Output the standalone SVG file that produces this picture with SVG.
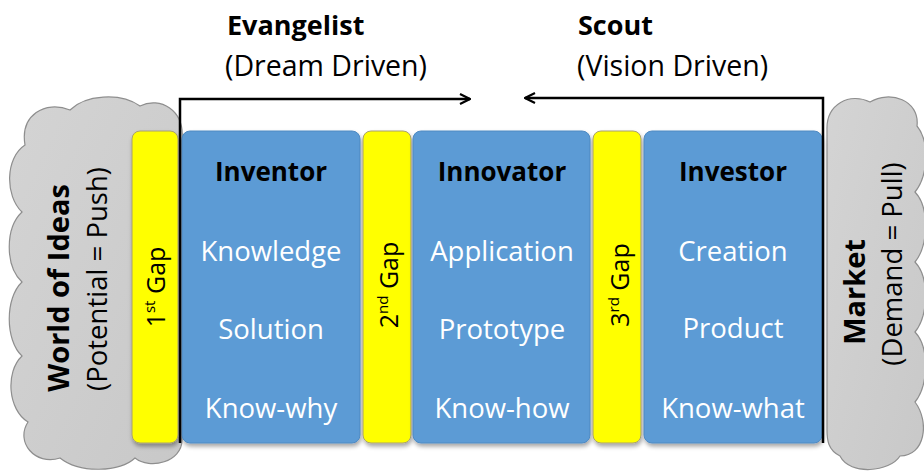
<svg xmlns="http://www.w3.org/2000/svg" width="924" height="473" viewBox="0 0 924 473">
<defs>
<linearGradient id="cloudGrad" x1="0" y1="0" x2="1" y2="1">
<stop offset="0" stop-color="#d4d4d4"/>
<stop offset="1" stop-color="#c8c8c8"/>
</linearGradient>
<filter id="shadow" x="-10%" y="-10%" width="130%" height="130%">
<feDropShadow dx="1" dy="3" stdDeviation="2" flood-color="#000" flood-opacity="0.35"/>
</filter>
<marker id="arrow" viewBox="0 0 12 12" refX="11" refY="6" markerWidth="12" markerHeight="12" markerUnits="userSpaceOnUse" orient="auto">
<path d="M1,1 L11,6 L1,11" fill="none" stroke="#000" stroke-width="2.2"/>
</marker>
<style>
.cloud{fill:url(#cloudGrad);stroke:#8e8e8e;stroke-width:1.2}
.gap{fill:#ffff00;stroke:#a8a070;stroke-width:1;filter:url(#shadow)}
.box{fill:#5b9bd5;stroke:#4f8ac2;stroke-width:1;filter:url(#shadow)}
.t{font-family:"Open Sans","Liberation Sans",sans-serif}
.head{font-weight:bold;font-size:26px;fill:#000;text-anchor:middle}
.item{font-size:27.5px;fill:#fff;text-anchor:middle}
.gapt{font-size:25px;fill:#000;text-anchor:middle}
.topb{font-size:27px;font-weight:bold;fill:#000}
.topr{font-size:28.5px;fill:#000}
.cb{font-weight:bold;font-size:29px;fill:#000;text-anchor:middle}
.cr{font-size:27.5px;fill:#000;text-anchor:middle}
.conn{fill:none;stroke:#000;stroke-width:2.5}
</style>
</defs>
<rect width="924" height="473" fill="#fff"/>

<g id="world-of-ideas">
<path class="cloud" d="M182,140 C185,110 160,96 140,106 C120,92 85,95 70,110 C45,100 20,115 25,145 C5,158 5,196 22,212 C5,228 5,266 22,282 C5,298 5,340 22,356 C5,372 8,410 28,422 C15,442 35,466 60,458 C80,474 120,472 135,458 C150,470 182,462 182,440 Z"/>
<text class="t cb" transform="translate(69,288) rotate(-90)">World of Ideas</text>
<text class="t cr" transform="translate(107,279) rotate(-90)">(Potential = Push)</text>
</g>

<g id="market">
<path class="cloud" d="M827,130 C826,104 850,92 870,102 C890,90 920,100 917,126 C930,142 928,176 915,192 C930,208 928,246 915,262 C930,278 928,316 915,332 C930,348 928,386 915,402 C930,422 925,456 900,456 C890,472 850,476 840,456 C828,450 827,440 827,430 Z"/>
<text class="t cb" transform="translate(865,292) rotate(-90)">Market</text>
<text class="t cr" transform="translate(902,264) rotate(-90)">(Demand = Pull)</text>
</g>

<g id="gap1">
<rect class="gap" x="132" y="131" width="46" height="312" rx="8"/>
<text class="t gapt" transform="translate(165,287) rotate(-90)">1<tspan font-size="15" dy="-10">st</tspan><tspan dy="10"> Gap</tspan></text>
</g>

<g id="inventor">
<rect class="box" x="182" y="131" width="178" height="312" rx="8"/>
<text class="t head" x="271" y="181">Inventor</text>
<text class="t item" x="271" y="261">Knowledge</text>
<text class="t item" x="271" y="339">Solution</text>
<text class="t item" x="271" y="418">Know-why</text>
</g>

<g id="gap2">
<rect class="gap" x="363" y="131" width="48" height="312" rx="8"/>
<text class="t gapt" transform="translate(398,285) rotate(-90)">2<tspan font-size="15" dy="-10">nd</tspan><tspan dy="10"> Gap</tspan></text>
</g>

<g id="innovator">
<rect class="box" x="413" y="131" width="177" height="312" rx="8"/>
<text class="t head" x="502" y="181">Innovator</text>
<text class="t item" x="502" y="261">Application</text>
<text class="t item" x="502" y="339">Prototype</text>
<text class="t item" x="502" y="418">Know-how</text>
</g>

<g id="gap3">
<rect class="gap" x="593" y="131" width="48" height="312" rx="8"/>
<text class="t gapt" transform="translate(629,285) rotate(-90)">3<tspan font-size="15" dy="-10">rd</tspan><tspan dy="10"> Gap</tspan></text>
</g>

<g id="investor">
<rect class="box" x="644" y="131" width="178" height="312" rx="8"/>
<text class="t head" x="733" y="181">Investor</text>
<text class="t item" x="733" y="261">Creation</text>
<text class="t item" x="733" y="338">Product</text>
<text class="t item" x="733" y="418">Know-what</text>
</g>

<g id="evangelist">
<text class="t topb" x="227" y="35">Evangelist</text>
<text class="t topr" x="225" y="76">(Dream Driven)</text>
</g>

<g id="scout">
<text class="t topb" x="578" y="35">Scout</text>
<text class="t topr" x="577" y="76">(Vision Driven)</text>
</g>

<g id="connectors">
<path class="conn" d="M180,443 V99 H470" marker-end="url(#arrow)"/>
<path class="conn" d="M823,443 V98 H525" marker-end="url(#arrow)"/>
</g>
</svg>
